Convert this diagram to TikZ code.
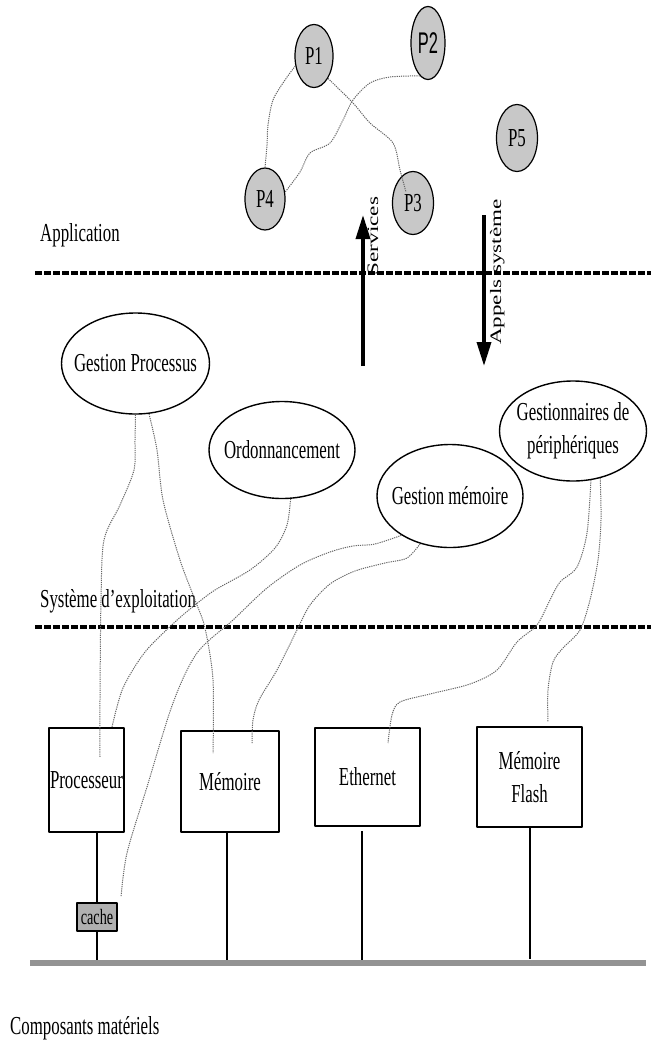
\documentclass[tikz,border=0pt]{standalone}
\usepackage{fontspec}
\setmainfont{Liberation Serif}[FakeStretch=0.65]
\newfontfamily\widefont{Liberation Serif}[FakeStretch=1.45]
\newfontfamily\narrowsans{Liberation Sans}[FakeStretch=0.55]
\usetikzlibrary{shapes.geometric,arrows.meta}
\newcommand{\txtsize}{\fontsize{26}{33}\selectfont}
\tikzset{
    layers/.style={x=1bp,y=-1bp,line join=round},
    process/.style={ellipse,draw,line width=1.2bp,fill=gray!43,inner sep=0pt,font=\txtsize},
    service/.style={ellipse,draw,line width=1.4bp,inner xsep=-20bp,inner ysep=0pt,
                    align=center,font=\txtsize},
    device/.style={rectangle,draw,line width=2.6bp,inner sep=0pt,align=center,font=\txtsize},
    layername/.style={inner sep=0pt,anchor=base west,font=\txtsize},
    callname/.style={inner sep=0pt,rotate=90,anchor=base,font=\widefont\fontsize{16}{18}\selectfont},
    layer/.style={line width=3.5bp,dash pattern=on 7bp off 2bp},
    call/.style={line width=3.5bp,-{Triangle[length=24bp,width=14bp]}},
    link/.style={black!60,line width=1bp,dash pattern=on 1.2bp off 1bp},
    bus/.style={gray!85,line width=6bp},
    drop/.style={line width=2bp},
    }
\begin{document}
\begin{tikzpicture}[layers]
\useasboundingbox (0,0) rectangle (653,1041);

% couche application
\node[process,minimum width=38bp,minimum height=63bp] (P1) at (314,56) {P1};
\node[process,minimum width=34bp,minimum height=73bp,
      font=\narrowsans\fontsize{30}{32}\selectfont] (P2) at (428,43) {P2};
\node[process,minimum width=41bp,minimum height=67bp] (P5) at (517,138) {P5};
\node[process,minimum width=40bp,minimum height=62bp] (P4) at (265,199) {P4};
\node[process,minimum width=41bp,minimum height=63bp] (P3) at (413,203) {P3};
\coordinate (p3in) at (406,192);

\draw[link] plot[smooth] coordinates {(P1.208) (285,80) (273,100) (268,125) (267,145) (P4.north)};
\draw[link] plot[smooth] coordinates {(P2.256) (390,77) (370,83) (353,100) (343,120) (330,143)
    (310,153) (300,172) (P4.19)};
\draw[link] plot[smooth] coordinates {(P1.302) (353,103) (370,123) (393,143) (400,170) (p3in)};

\node[layername] (app) at (40,241) {Application};
\coordinate (appW) at (35,273);
\coordinate (appE) at (651,273);
\draw[layer] (appW) -- (appE);

% appels et services
\coordinate (srvS) at (363,366);
\coordinate (srvN) at (363,215);
\coordinate (sysN) at (484,215);
\coordinate (sysS) at (484,366);
\draw[call] (srvS) -- (srvN);
\draw[call] (sysN) -- (sysS);
\node[callname] (srv) at (378,236) {Services};
\node[callname] (sys) at (501,272) {Appels système};

% couche systeme
\node[service,minimum width=148bp,minimum height=101bp] (gp) at (135.5,363.5) {Gestion Processus};
\node[service,minimum width=146bp,minimum height=97bp] (ord) at (282,450) {Ordonnancement};
\node[service,minimum width=146bp,minimum height=103bp] (gm) at (450,496) {Gestion mémoire};
\node[service,minimum width=147bp,minimum height=100bp] (gdp) at (573,431) {Gestionnaires de\\périphériques};

\node[layername] (os) at (40,607) {Système d'exploitation};
\coordinate (osW) at (35,627);
\coordinate (osE) at (651,627);
\draw[layer] (osW) -- (osE);

% composants
\node[device,minimum width=75bp,minimum height=104bp] (cpu) at (86.5,780) {Processeur};
\node[device,minimum width=98bp,minimum height=101bp] (mem) at (230,781.5) {Mémoire};
\node[device,minimum width=105bp,minimum height=98bp] (eth) at (367.5,777) {Ethernet};
\node[device,minimum width=105bp,minimum height=100bp] (flash) at (529.5,777) {Mémoire\\Flash};
\node[device,fill=gray!62,line width=2.2bp,minimum width=40bp,minimum height=28bp,
      font=\fontsize{22}{24}\selectfont] (cache) at (97,917) {cache};

\coordinate (busW) at (30,963);
\coordinate (busE) at (646,963);
\draw[drop] (cache.north |- cpu.south) -- (cache.north);
\draw[drop] (cache.south) -- (cache.south |- busW);
\draw[drop] ([xshift=-3bp]mem.south) -- ([xshift=-3bp]mem.south |- busW);
\draw[drop] ([xshift=-5.5bp,yshift=-4bp]eth.south) -- ([xshift=-5.5bp]eth.south |- busW);
\draw[drop] (flash.south) -- ([yshift=4bp]flash.south |- busW);
\draw[bus] (busW) -- (busE);

\node[layername] (hw) at (10,1034) {Composants matériels};

% liens systeme - materiel
\coordinate (cpuin) at (100,757);
\coordinate (cputop) at (112,727);
\coordinate (cachept) at (121,897);
\coordinate (memin) at (213,753);
\coordinate (memtop) at (252,743);
\coordinate (ethin) at (388,743);
\coordinate (flashtop) at (548,722);

\draw[link] plot[smooth] coordinates {(gp.south) (135,440) (134,470) (120,505) (104,540)
    (101,600) (100,700) (cpuin)};
\draw[link] plot[smooth] coordinates {(gp.285) (157,450) (163,500) (180,560) (195,600)
    (205,628) (213,680) (memin)};
\draw[link] plot[smooth] coordinates {(ord.280) (287,525) (275,548) (250,570) (215,590)
    (195,605) (175,622) (145,652) (123,688) (cputop)};
\draw[link] plot[smooth] coordinates {(gm.219) (375,544) (353,546) (330,552) (300,565)
    (267,588) (233,620) (197,653) (173,703) (147,787) (127,853) (cachept)};
\draw[link] plot[smooth] coordinates {(gm.238) (407,558) (385,563) (355,571) (330,584)
    (310,605) (297,630) (277,670) (259,700) (253,720) (memtop)};
\draw[link] plot[smooth] coordinates {(gdp.290) (587,533) (577,567) (560,582) (550,600)
    (537,625) (517,642) (497,670) (470,684) (430,694) (400,702) (392,715) (ethin)};
\draw[link] plot[smooth] coordinates {(gdp.300) (601,520) (598,560) (590,600) (580,630)
    (563,648) (553,662) (548,690) (flashtop)};
\end{tikzpicture}
\end{document}
